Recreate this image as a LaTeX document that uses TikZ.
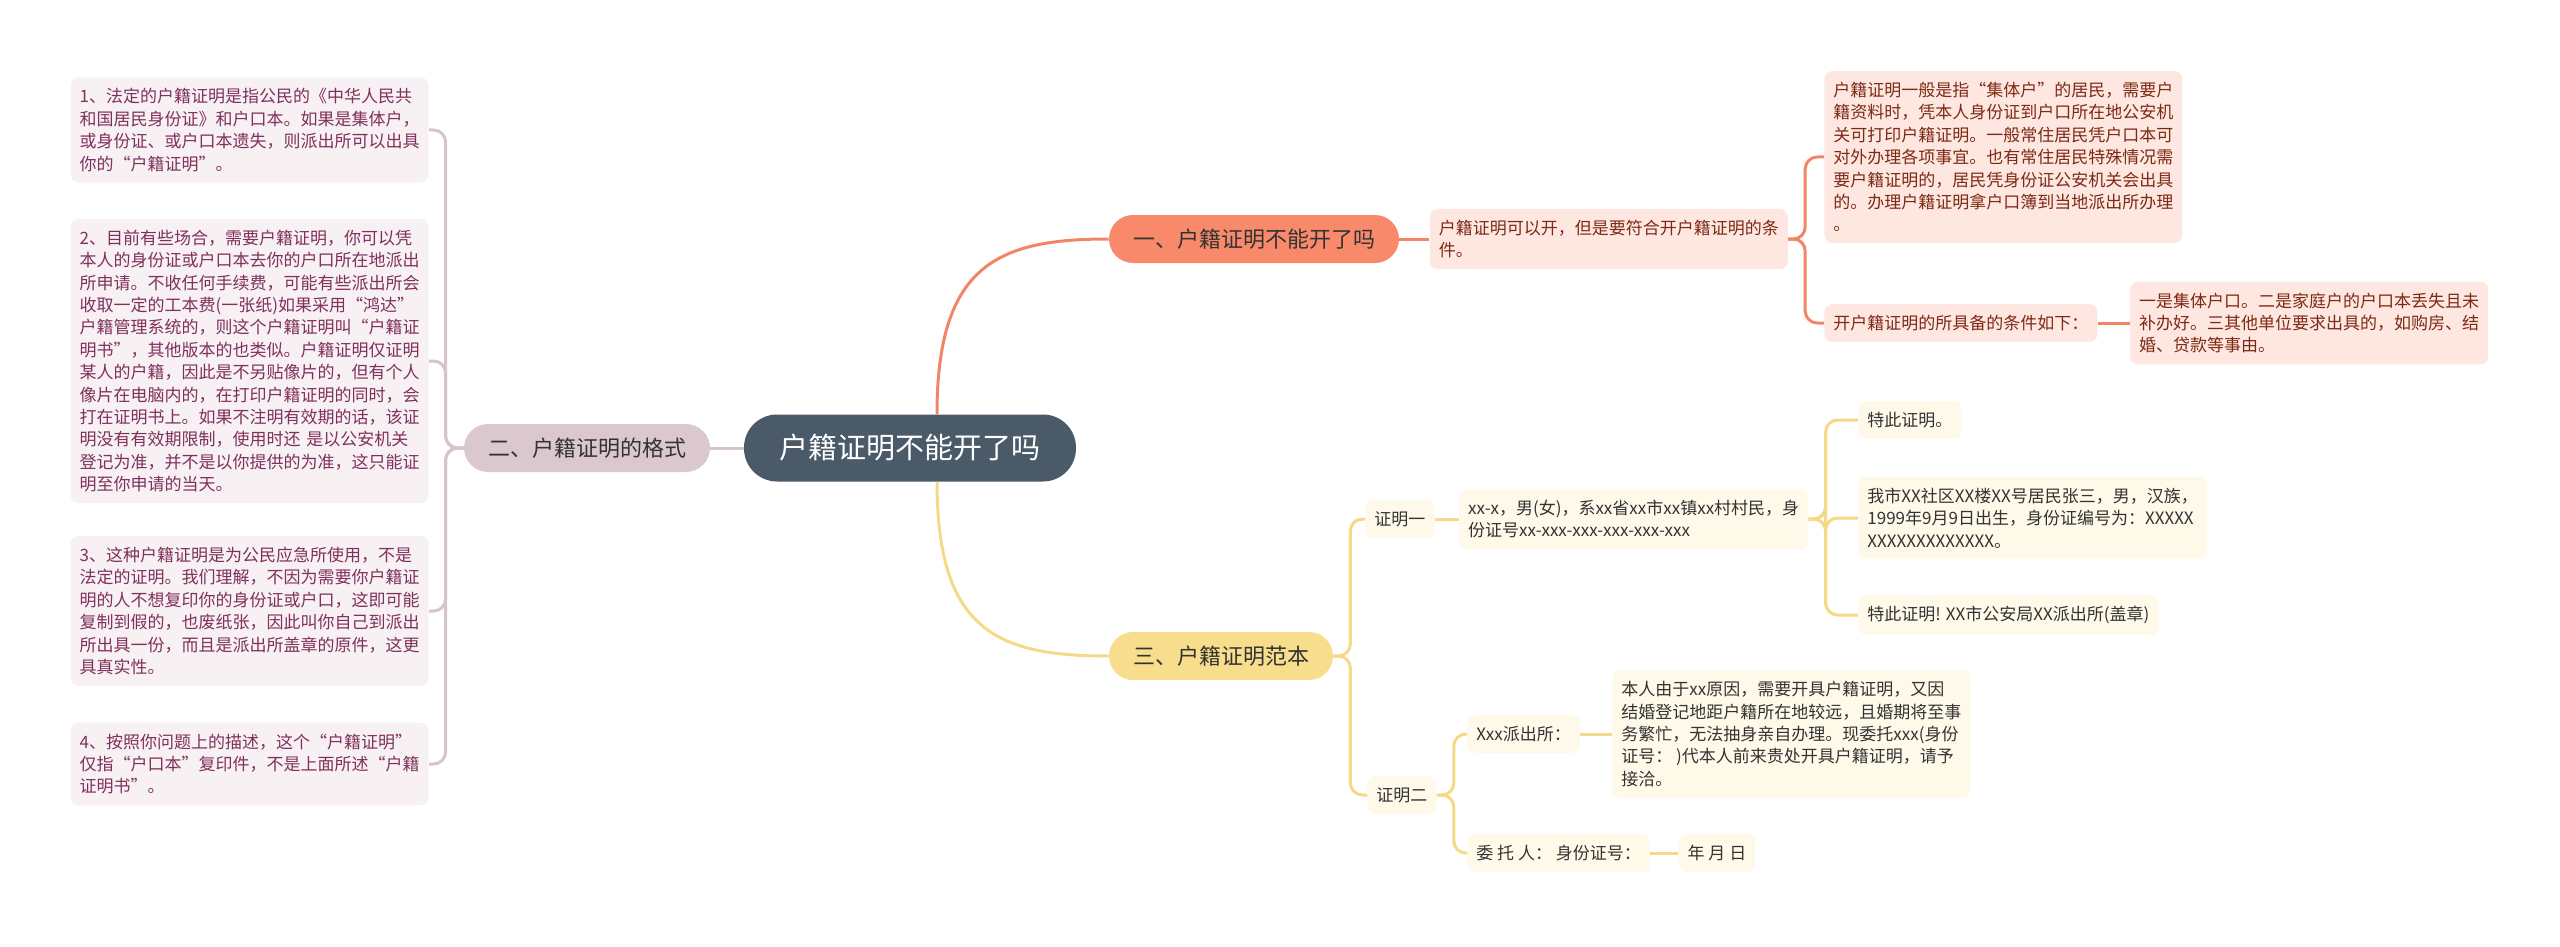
\documentclass[tikz,border=0pt]{standalone}
\usepackage{fontspec}
\setmainfont{Noto Sans CJK SC}
\usetikzlibrary{positioning}

\definecolor{rootfill}{RGB}{75,90,105}
\definecolor{onefill}{RGB}{249,137,107}
\definecolor{oneline}{RGB}{243,133,103}
\definecolor{oneleaf}{RGB}{253,231,224}
\definecolor{onetext}{RGB}{125,42,20}
\definecolor{twofill}{RGB}{219,200,207}
\definecolor{twoline}{RGB}{214,196,203}
\definecolor{twoleaf}{RGB}{247,241,243}
\definecolor{twotext}{RGB}{128,48,92}
\definecolor{threefill}{RGB}{248,221,140}
\definecolor{threeline}{RGB}{245,217,135}
\definecolor{threeleaf}{RGB}{254,249,233}
\definecolor{darktext}{RGB}{51,51,51}

\begin{document}
\begin{tikzpicture}[x=0.5pt, y=-0.5pt,
  topic/.style={fill=rootfill, text=white, rounded corners=16.5pt, minimum height=33.5pt, minimum width=166pt, font=\fontsize{14.5}{17}\selectfont},
  branch/.style={rounded corners=12pt, minimum height=24pt, inner xsep=12pt, text=darktext, font=\fontsize{11}{13}\selectfont},
  leaf/.style={rounded corners=4pt, inner xsep=4.5pt, inner ysep=5.5pt, align=left, font=\fontsize{8.5}{11.2}\selectfont},
  leafa/.style={leaf, fill=oneleaf, text=onetext},
  leafb/.style={leaf, fill=twoleaf, text=twotext, text width=170pt},
  leafc/.style={leaf, fill=threeleaf, text=darktext},
  link/.style={line width=1.5pt, rounded corners=6pt},
  linka/.style={link, draw=oneline},
  linkb/.style={link, draw=twoline},
  linkc/.style={link, draw=threeline}]
  \useasboundingbox (0,0) rectangle (2560,947);

  % Nodes for the centre and the three topics
  \node[topic] (root) at (910,448) {户籍证明不能开了吗};
  \node[branch, fill=onefill] (one) at (1254,239) {一、户籍证明不能开了吗};
  \node[branch, fill=twofill] (two) at (587,448) {二、户籍证明的格式};
  \node[branch, fill=threefill] (three) at (1221,656) {三、户籍证明范本};

  % Nodes for topic one
  \node[leafa] (can) [right=15pt of one] {户籍证明可以开，但是要符合开户籍证明的条\\件。};
  \node[leafa, anchor=west] (who) at (1824,157) {户籍证明一般是指“集体户”的居民，需要户\\籍资料时，凭本人身份证到户口所在地公安机\\关可打印户籍证明。一般常住居民凭户口本可\\对外办理各项事宜。也有常住居民特殊情况需\\要户籍证明的，居民凭身份证公安机关会出具\\的。办理户籍证明拿户口簿到当地派出所办理\\。};
  \node[leafa, anchor=west] (cond) at (1824,323) {开户籍证明的所具备的条件如下：};
  \node[leafa] (conds) [right=16pt of cond] {一是集体户口。二是家庭户的户口本丢失且未\\补办好。三其他单位要求出具的，如购房、结\\婚、贷款等事由。};

  % Nodes for topic two
  \node[leafb, anchor=east] (p1) at (429,130) {1、法定的户籍证明是指公民的《中华人民共\\和国居民身份证》和户口本。如果是集体户，\\或身份证、或户口本遗失，则派出所可以出具\\你的“户籍证明”。};
  \node[leafb, anchor=east] (p2) at (429,361) {2、目前有些场合，需要户籍证明，你可以凭\\本人的身份证或户口本去你的户口所在地派出\\所申请。不收任何手续费，可能有些派出所会\\收取一定的工本费(一张纸)如果采用“鸿达”\\户籍管理系统的，则这个户籍证明叫“户籍证\\明书”，其他版本的也类似。户籍证明仅证明\\某人的户籍，因此是不另贴像片的，但有个人\\像片在电脑内的，在打印户籍证明的同时，会\\打在证明书上。如果不注明有效期的话，该证\\明没有有效期限制，使用时还 是以公安机关\\登记为准，并不是以你提供的为准，这只能证\\明至你申请的当天。};
  \node[leafb, anchor=east] (p3) at (429,611) {3、这种户籍证明是为公民应急所使用，不是\\法定的证明。我们理解，不因为需要你户籍证\\明的人不想复印你的身份证或户口，这即可能\\复制到假的，也废纸张，因此叫你自己到派出\\所出具一份，而且是派出所盖章的原件，这更\\具真实性。};
  \node[leafb, anchor=east] (p4) at (429,764) {4、按照你问题上的描述，这个“户籍证明”\\仅指“户口本”复印件，不是上面所述“户籍\\证明书”。};

  % Nodes for topic three
  \node[leafc, anchor=west] (cert1) at (1365,519) {证明一};
  \node[leafc] (person) [right=12pt of cert1] {xx-x，男(女)，系xx省xx市xx镇xx村村民，身\\份证号xx-xxx-xxx-xxx-xxx-xxx};
  \node[leafc, anchor=west] (hereby) at (1858,420) {特此证明。};
  \node[leafc, anchor=west] (resident) at (1858,518) {我市XX社区XX楼XX号居民张三，男，汉族，\\1999年9月9日出生，身份证编号为：XXXXX\\XXXXXXXXXXXXX。};
  \node[leafc, anchor=west] (seal) at (1858,615) {特此证明! XX市公安局XX派出所(盖章)};
  \node[leafc, anchor=west] (cert2) at (1367,795) {证明二};
  \node[leafc, anchor=west] (office) at (1467,734) {Xxx派出所：};
  \node[leafc, anchor=west] (letter) at (1612,734) {本人由于xx原因，需要开具户籍证明，又因\\结婚登记地距户籍所在地较远，且婚期将至事\\务繁忙，无法抽身亲自办理。现委托xxx(身份\\证号： )代本人前来贵处开具户籍证明，请予\\接洽。};
  \node[leafc, anchor=west] (agent) at (1467,853) {委 托 人： 身份证号：};
  \node[leafc] (date) [right=14pt of agent] {年 月 日};

  % Lines for the three topics
  \draw[linka] (root.north) ++(27,0) .. controls +(0,-150) and +(-110,0) .. (one.west);
  \draw[linkb] (root.west) -- (two.east);
  \draw[linkc] (root.south) ++(27,0) .. controls +(0,150) and +(-110,0) .. (three.west);

  % Lines for topic one
  \draw[linka] (one.east) -- (can.west);
  \draw[linka] (can.east) -- ++(17,0) |- (who.west);
  \draw[linka] (can.east) -- ++(17,0) |- (cond.west);
  \draw[linka] (cond.east) -- (conds.west);

  % Lines for topic two
  \foreach \p in {p1,p2,p3,p4}
    \draw[linkb] (two.west) -- ++(-18,0) |- (\p.east);

  % Lines for topic three
  \draw[linkc] (three.east) -- ++(17,0) |- (cert1.west);
  \draw[linkc] (three.east) -- ++(17,0) |- (cert2.west);
  \draw[linkc] (cert1.east) -- (person.west);
  \foreach \q in {hereby,resident,seal}
    \draw[linkc] (person.east) -- ++(17,0) |- (\q.west);
  \draw[linkc] (cert2.east) -- ++(17,0) |- (office.west);
  \draw[linkc] (cert2.east) -- ++(17,0) |- (agent.west);
  \draw[linkc] (office.east) -- (letter.west);
  \draw[linkc] (agent.east) -- (date.west);
\end{tikzpicture}
\end{document}
